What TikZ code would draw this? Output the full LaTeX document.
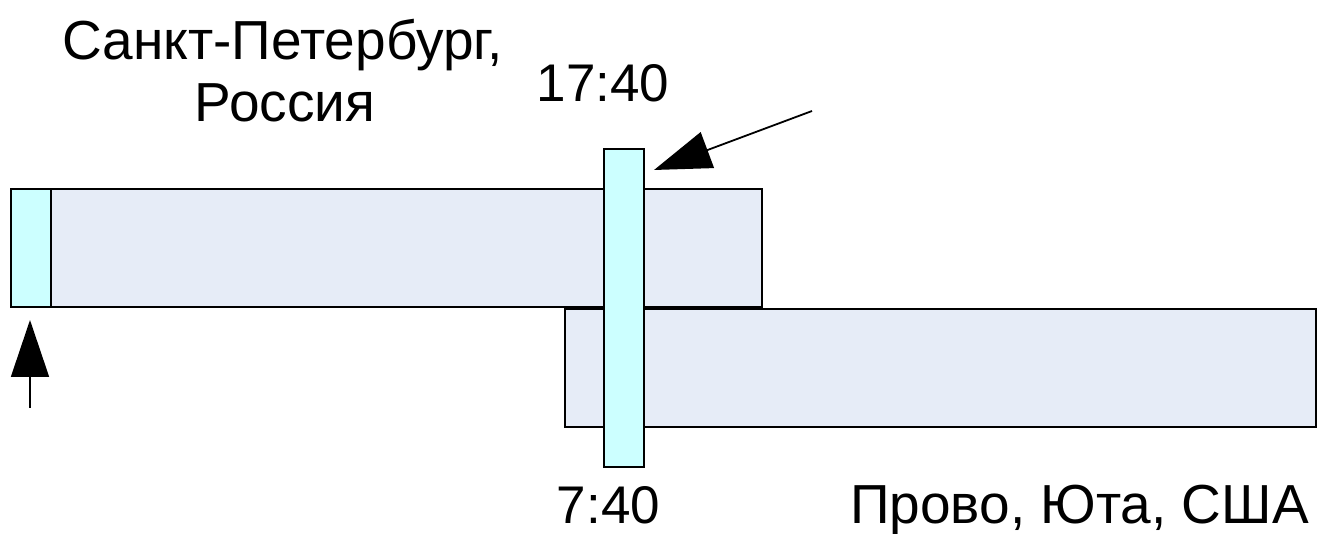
\documentclass[tikz,border=0pt]{standalone}
\usepackage{fontspec}
\setmainfont{Liberation Sans}
\usetikzlibrary{arrows.meta}
\definecolor{barfill}{HTML}{E6ECF7}
\definecolor{cyanfill}{HTML}{CCFFFF}
\begin{document}
\begin{tikzpicture}[x=1pt,y=1pt,
  bar/.style={draw=black,line width=1.6pt,fill=barfill,inner sep=0,minimum width=751pt,minimum height=118pt,anchor=south west},
  cyanbox/.style={draw=black,line width=1.6pt,fill=cyanfill,inner sep=0,anchor=south west},
  lbl/.style={inner sep=0,anchor=base,font=\fontsize{55}{60}\selectfont},
  numlbl/.style={inner sep=0,anchor=base,font=\fontsize{53}{58}\selectfont},
  pointer/.style={line width=1.8pt,-{Triangle[length=57pt,width=38pt]}}]
\useasboundingbox (0,0) rectangle (1317,533);
\node[bar] (stp) at (10,225) {};
\node[bar] (provo) at (564,105) {};
\node[cyanbox,minimum width=40pt,minimum height=118pt] (start) at (10,225) {};
\node[cyanbox,minimum width=40pt,minimum height=318pt] (now) at (603,65) {};
\node[lbl] (t1) at (282.5,473) {Санкт-Петербург,};
\node[lbl] (t2) at (285,411) {Россия};
\node[numlbl] (t3) at (603,431) {17:40};
\node[numlbl] (t4) at (608.5,10) {7:40};
\node[lbl] (t5) at (1079.5,10) {Прово, Юта, США};
\coordinate (s1) at (30,125);
\coordinate (e1) at (30,213);
\coordinate (s2) at (812,422);
\coordinate (e2) at (654,363);
\draw[pointer] (s1) -- (e1);
\draw[pointer] (s2) -- (e2);
\end{tikzpicture}
\end{document}
